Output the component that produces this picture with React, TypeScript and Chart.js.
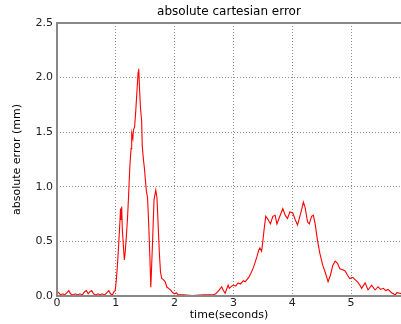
import { useEffect, useRef } from "react";
import { Chart, registerables } from "chart.js";

Chart.register(...registerables);

const chartTitle = "absolute cartesian error";
const xAxisLabel = "time(seconds)";
const yAxisLabel = "absolute error (mm)";

const times = [
  0.0, 0.03, 0.06, 0.1, 0.13, 0.17, 0.2, 0.23, 0.27, 0.31, 0.35, 0.39, 0.43, 0.47, 0.5, 0.53,
  0.56, 0.59, 0.62, 0.66, 0.7, 0.73, 0.77, 0.81, 0.85, 0.88, 0.91, 0.94, 0.97, 0.99,
  1.01, 1.03, 1.05, 1.07, 1.08, 1.09, 1.1, 1.11, 1.13, 1.145, 1.16, 1.18, 1.2, 1.22, 1.24,
  1.26, 1.27, 1.29, 1.3, 1.32, 1.34, 1.36, 1.38, 1.39, 1.405, 1.42, 1.44, 1.45, 1.47, 1.49,
  1.5, 1.52, 1.54, 1.56, 1.58, 1.595, 1.61, 1.63, 1.65, 1.68, 1.7, 1.72, 1.74, 1.76, 1.78,
  1.81, 1.84, 1.87, 1.9, 1.94, 1.97, 2.0, 2.03, 2.06, 2.15, 2.3, 2.5, 2.65, 2.7, 2.75, 2.8,
  2.83, 2.86, 2.91, 2.93, 2.97, 3.0, 3.04, 3.08, 3.12, 3.17, 3.2, 3.23, 3.26, 3.3, 3.34,
  3.37, 3.4, 3.43, 3.45, 3.48, 3.5, 3.52, 3.55, 3.59, 3.63, 3.67, 3.71, 3.74, 3.79, 3.84,
  3.88, 3.92, 3.96, 4.01, 4.05, 4.09, 4.13, 4.16, 4.19, 4.22, 4.26, 4.29, 4.33, 4.36, 4.39,
  4.43, 4.47, 4.52, 4.56, 4.61, 4.65, 4.69, 4.73, 4.77, 4.81, 4.86, 4.9, 4.94, 4.98, 5.03,
  5.07, 5.11, 5.15, 5.18, 5.24, 5.29, 5.35, 5.41, 5.46, 5.5, 5.55, 5.59, 5.63, 5.69, 5.72,
  5.75, 5.78, 5.83, 5.86,
];

const errors = [
  0.04, 0.03, 0.01, 0.02, 0.01, 0.03, 0.05, 0.02, 0.01, 0.02, 0.01, 0.02, 0.01, 0.04, 0.05, 0.02,
  0.04, 0.05, 0.02, 0.01, 0.02, 0.01, 0.02, 0.01, 0.03, 0.05, 0.02, 0.01, 0.04, 0.05,
  0.15, 0.3, 0.48, 0.68, 0.8, 0.7, 0.82, 0.62, 0.45, 0.33, 0.4, 0.55, 0.72, 0.95, 1.2,
  1.35, 1.49, 1.44, 1.52, 1.55, 1.7, 1.88, 2.05, 2.08, 1.88, 1.72, 1.6, 1.37, 1.25, 1.15,
  1.08, 0.96, 0.9, 0.65, 0.35, 0.08, 0.28, 0.57, 0.88, 0.97, 0.9, 0.65, 0.4, 0.22, 0.16,
  0.15, 0.13, 0.08, 0.07, 0.05, 0.03, 0.02, 0.03, 0.01, 0.01, 0.005, 0.01, 0.01, 0.02, 0.05, 0.085,
  0.05, 0.025, 0.1, 0.07, 0.09, 0.1, 0.09, 0.12, 0.11, 0.14, 0.13, 0.15, 0.17, 0.21, 0.26,
  0.31, 0.36, 0.42, 0.44, 0.41, 0.5, 0.6, 0.73, 0.7, 0.66, 0.73, 0.74, 0.66, 0.73, 0.8,
  0.74, 0.71, 0.77, 0.76, 0.7, 0.65, 0.73, 0.79, 0.86, 0.81, 0.68, 0.66, 0.73, 0.74, 0.66,
  0.51, 0.39, 0.28, 0.22, 0.13, 0.19, 0.28, 0.32, 0.3, 0.25, 0.24, 0.23, 0.19, 0.16, 0.17,
  0.15, 0.13, 0.1, 0.07, 0.12, 0.055, 0.1, 0.055, 0.085, 0.06, 0.07, 0.05, 0.06, 0.03, 0.02,
  0.01, 0.03, 0.025, 0.02,
];

const xMin = 0;
const xMax = 5.85;
const yMin = 0;
const yMax = 2.5;
const xStep = 1;
const yStep = 0.5;

const FONT = "'DejaVu Sans', sans-serif";

const framePlugin = {
  id: "frame",
  afterDraw(chart: any) {
    const { ctx, chartArea } = chart;
    const { left, top, right, bottom } = chartArea;
    ctx.save();
    ctx.strokeStyle = "#888888";
    ctx.lineWidth = 2;
    ctx.beginPath();
    ctx.moveTo(right + 2, top);
    ctx.lineTo(left, top);
    ctx.lineTo(left, bottom);
    ctx.lineTo(right + 2, bottom);
    ctx.stroke();
    // centred title over the plot area
    ctx.fillStyle = "#000";
    ctx.font = "12px " + FONT;
    ctx.textAlign = "center";
    ctx.textBaseline = "middle";
    ctx.fillText(chartTitle, (left + right) / 2, top - 11);
    ctx.restore();
  },
};

export default function App() {
  const ref = useRef<HTMLCanvasElement | null>(null);

  useEffect(() => {
    document.body.style.margin = "0";
    const canvas = ref.current;
    if (!canvas) return;
    const points = times.map((t, i) => ({ x: t, y: errors[i] }));
    const gridColor = (ctx: any) => {
      const v = ctx.tick ? ctx.tick.value : null;
      if (v === 0 || v === yMax) return "rgba(0,0,0,0)";
      return "rgba(0,0,0,0.45)";
    };
    const chart = new Chart(canvas, {
      type: "line",
      data: {
        datasets: [
          {
            data: points,
            borderColor: "#ff0000",
            borderWidth: 1.1,
            pointRadius: 0,
            tension: 0,
            fill: false,
          },
        ],
      },
      options: {
        animation: false,
        responsive: false,
        devicePixelRatio: 1,
        layout: { padding: { left: 0, right: 0, top: 23, bottom: 0 } },
        plugins: {
          legend: { display: false },
          tooltip: { enabled: false },
          title: { display: false },
        },
        scales: {
          x: {
            type: "linear",
            min: xMin,
            max: xMax,
            ticks: {
              stepSize: xStep,
              includeBounds: false,
              maxRotation: 0,
              autoSkip: false,
              padding: 1,
              color: "#222",
              font: { family: FONT, size: 11 },
              callback: (v: any) => String(v),
            },
            grid: { color: gridColor, lineWidth: 1, drawTicks: false },
            border: { display: false, dash: [1, 2] },
            title: {
              display: true,
              text: xAxisLabel,
              color: "#000",
              font: { family: FONT, size: 11 },
              padding: { top: 0, bottom: 2 },
            },
            afterFit: (s: any) => {
              s.height = 28;
            },
          },
          y: {
            type: "linear",
            min: yMin,
            max: yMax,
            ticks: {
              stepSize: yStep,
              includeBounds: false,
              padding: 4,
              color: "#222",
              font: { family: FONT, size: 11 },
              callback: (v: any) => Number(v).toFixed(1),
            },
            grid: { color: gridColor, lineWidth: 1, drawTicks: false },
            border: { display: false, dash: [1, 2] },
            title: {
              display: true,
              text: yAxisLabel,
              color: "#000",
              font: { family: FONT, size: 11 },
              padding: { top: 11, bottom: 0 },
            },
            afterFit: (s: any) => {
              s.width = 57;
            },
          },
        },
      },
      plugins: [framePlugin],
    });
    return () => chart.destroy();
  }, []);

  return (
    <canvas
      ref={ref}
      width={401}
      height={324}
      style={{ display: "block", width: 401, height: 324 }}
    />
  );
}
